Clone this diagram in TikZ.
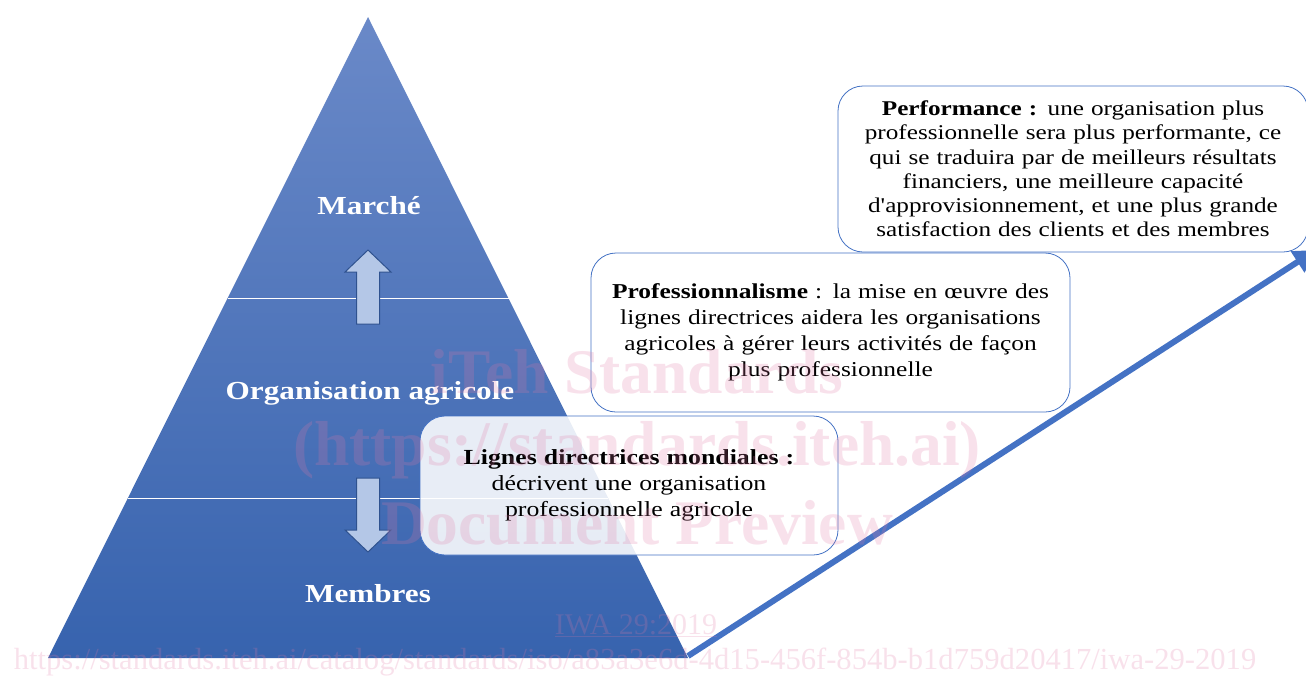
\documentclass[tikz,border=0pt]{standalone}
\usepackage{fontspec}
\setmainfont{Liberation Serif}[FakeStretch=1.2]
\newfontfamily\aposfont{Liberation Serif}[FakeStretch=1.2]
\newfontfamily\wmfont{Liberation Serif}
\newcommand{\sq}{{\aposfont\symbol{39}}}
\usetikzlibrary{arrows.meta}
\definecolor{topblue}{RGB}{106,137,200}
\definecolor{botblue}{RGB}{55,99,174}
\definecolor{edgeblue}{RGB}{68,114,196}
\definecolor{arrfill}{RGB}{180,199,231}
\definecolor{arrdraw}{RGB}{47,82,143}
\definecolor{wmpink}{RGB}{225,120,165}
\begin{document}
\begin{tikzpicture}[x=1pt,y=-1pt,
  lvl/.style={text=white,font=\fontsize{26}{30}\selectfont\bfseries},
  box/.style={draw=edgeblue, line width=0.8pt, rounded corners=25pt, fill=white, align=center, inner sep=0pt},
  blockarrow/.style={fill=arrfill, draw=arrdraw, line width=1pt},
  divider/.style={white, line width=0.8pt},
  bigarrow/.style={edgeblue, line width=6pt, -{Triangle[length=22pt,width=24pt]}},
  wm/.style={text=wmpink, opacity=0.22, font=\wmfont\bfseries\fontsize{63.5}{63.5}\selectfont},
  wmsmall/.style={text=wmpink, opacity=0.22, font=\wmfont\fontsize{30}{30}\selectfont}]
\useasboundingbox (0,0) rectangle (1306,675);
% pyramid
\coordinate (apex) at (368,17);
\coordinate (bl) at (48,658);
\coordinate (br) at (688,658);
\shade[top color=topblue,bottom color=botblue] (apex) -- (bl) -- (br) -- cycle;
\coordinate (d1l) at (228,298.5);
\coordinate (d1r) at (509,298.5);
\coordinate (d2l) at (128,498.5);
\coordinate (d2r) at (608,498.5);
\draw[divider] (d1l) -- (d1r);
\draw[divider] (d2l) -- (d2r);
% block arrows
\path[blockarrow] (368,250) -- (391,272) -- (379.5,272) -- (379.5,324) -- (356.5,324) -- (356.5,272) -- (345,272) -- cycle;
\path[blockarrow] (356.5,478) -- (379.5,478) -- (379.5,530) -- (391,530) -- (368,552) -- (345,530) -- (356.5,530) -- cycle;
% level labels
\node[lvl] (marche) at (369,206) {Marché};
\node[lvl] (org) at (370,393) {Organisation agricole};
\node[lvl] (membres) at (368,594) {Membres};
% big arrow
\coordinate (s) at (688,656);
\coordinate (e) at (1316,250);
\draw[bigarrow] (s) -- (e);
% boxes
\node[box, minimum width=470pt, minimum height=166pt, text width=450pt, font=\fontsize{21}{24.2}\selectfont] (perf) at (1073,169)
 {\textbf{Performance :} une organisation plus\\professionnelle sera plus performante, ce\\qui se traduira par de meilleurs résultats\\financiers, une meilleure capacité\\d\sq approvisionnement, et une plus grande\\satisfaction des clients et des membres};
\node[box, minimum width=479pt, minimum height=159pt, text width=460pt, font=\fontsize{21.2}{26}\selectfont] (prof) at (830.5,332.5)
 {\textbf{Professionnalisme} : la mise en œuvre des\\lignes directrices aidera les organisations\\agricoles à gérer leurs activités de façon\\plus professionnelle};
\node[box, fill opacity=0.88, text opacity=1, minimum width=418pt, minimum height=139pt, text width=400pt, font=\fontsize{21.5}{26}\selectfont] (lignes) at (629,485.5)
 {\textbf{Lignes directrices mondiales :}\\décrivent une organisation\\professionnelle agricole};
% watermark
\node[wm] (wm1) at (637,372) {iTeh Standards};
\node[wm] (wm2) at (637,450) {(https://standards.iteh.ai)};
\node[wm] (wm3) at (637,523) {Document Preview};
\node[wmsmall] (wm4) at (636,626) {\underline{IWA 29:2019}};
\node[wmsmall, font=\wmfont\fontsize{30.6}{30.6}\selectfont] (wm5) at (635,662) {https://standards.iteh.ai/catalog/standards/iso/a83a3e6d-4d15-456f-854b-b1d759d20417/iwa-29-2019};
\end{tikzpicture}
\end{document}
